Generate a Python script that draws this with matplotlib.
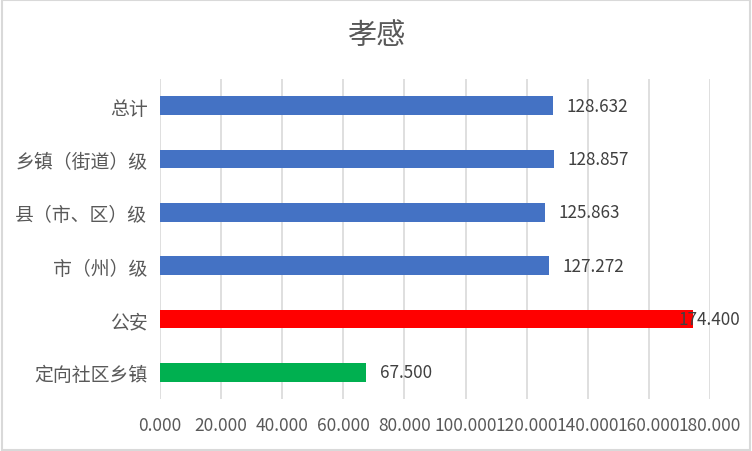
import matplotlib
matplotlib.use("Agg")
import matplotlib.pyplot as plt
from matplotlib.patches import Rectangle

plt.rcParams['font.family'] = ['Noto Sans CJK SC', 'DejaVu Sans']

categories = ["总计", "乡镇（街道）级", "县（市、区）级", "市（州）级", "公安", "定向社区乡镇"]
values = [128.632, 128.857, 125.863, 127.272, 174.400, 67.500]
colors = ["#4472C4", "#4472C4", "#4472C4", "#4472C4", "#FF0000", "#00B050"]
xticks = [0, 20, 40, 60, 80, 100, 120, 140, 160, 180]
title = "孝感"

fig = plt.figure(figsize=(7.52, 4.52), dpi=100)
ax = fig.add_axes([160/752, 1-400/452, 550/752, 320/452])

ypos = list(range(len(categories)))
ax.barh(ypos, values, height=0.355, color=colors, zorder=3)
ax.set_ylim(len(categories)-0.5, -0.5)
ax.set_xlim(0, 180)
ax.set_xticks(xticks)
ax.set_xticklabels([f"{t:.3f}" for t in xticks], fontsize=12.5, color="#595959")
ax.set_yticks(ypos)
ax.set_yticklabels(categories, fontsize=13.6, color="#595959")
ax.tick_params(axis='both', length=0)
ax.tick_params(axis='x', pad=12)
ax.tick_params(axis='y', pad=9)
ax.grid(axis='x', color="#D9D9D9", linewidth=1.2, zorder=0)
for s in ax.spines.values():
    s.set_visible(False)

for i, v in enumerate(values):
    off = 10 if v < 170 else -10
    ax.annotate(f"{v:.3f}", (v, i), xytext=(off, 0), textcoords='offset points',
                ha='left', va='center', fontsize=12.3, color="#404040", zorder=4)

fig.text(0.5, 1-36/452, title, ha='center', va='center', fontsize=21, color="#595959")
fig.patches.append(Rectangle((0.002, 0.003), 0.996, 0.994, transform=fig.transFigure,
                             fill=False, edgecolor="#D9D9D9", linewidth=1.5))

fig.savefig("out.png", dpi=100)
